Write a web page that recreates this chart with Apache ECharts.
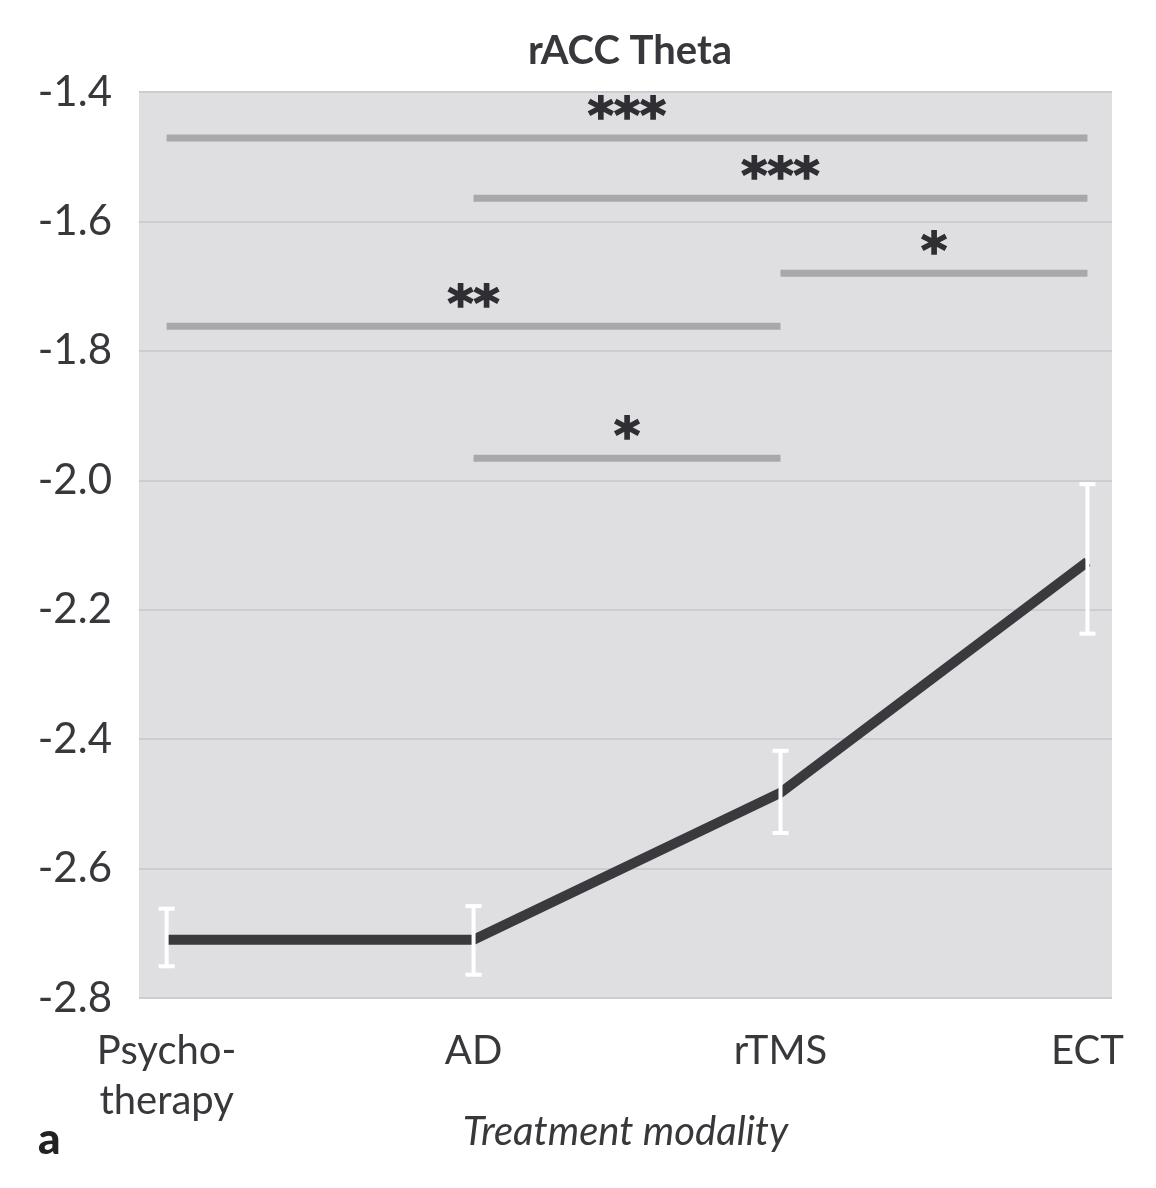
<!DOCTYPE html>
<html>
<head>
<meta charset="utf-8">
<title>rACC Theta</title>
<script src="https://cdn.jsdelivr.net/npm/echarts@6/dist/echarts.min.js"></script>
<style>
    html, body { margin: 0; padding: 0; background: #fff; }
    #chart { width: 1156px; height: 1188px; }
</style>
</head>
<body>
<div id="chart"></div>
<script>
    // categories on the x axis (positions 0..3)
    var categories = ['Psycho-\ntherapy', 'AD', 'rTMS', 'ECT'];
    var catIndex = [0, 1, 2, 3];

    // group means
    var means = [-2.71, -2.71, -2.483, -2.126];
    // error bar ends
    var errLow = [-2.751, -2.764, -2.545, -2.237];
    var errHigh = [-2.662, -2.658, -2.418, -2.006];

    // significance brackets: from, to, y, stars
    var sigFrom = [0, 1, 2, 0, 1];
    var sigTo = [3, 3, 3, 2, 2];
    var sigY = [-1.471, -1.564, -1.680, -1.762, -1.966];
    var sigStars = ['***', '***', '*', '**', '*'];

    var textColor = '#38383c';
    var baseFont = 'Lato, "Open Sans", sans-serif';

    var chart = echarts.init(document.getElementById('chart'));

    var lineData = catIndex.map(function (x, i) { return [x, means[i]]; });
    var errData = catIndex.map(function (x, i) { return [x, errLow[i], errHigh[i]]; });
    var sigData = sigFrom.map(function (f, i) { return [f, sigTo[i], sigY[i]]; });

    var option = {
        animation: false,
        backgroundColor: '#fff',
        title: [{
            text: 'rACC Theta',
            left: 625,
            top: 26,
            textAlign: 'center',
            textStyle: {
                fontFamily: baseFont,
                fontWeight: 'bold',
                fontSize: 40,
                color: textColor
            }
        }, {
            text: 'a',
            left: 33,
            top: 1113,
            textStyle: {
                fontFamily: baseFont,
                fontWeight: 900,
                fontSize: 44,
                color: '#222'
            }
        }],
        grid: {
            left: 139,
            right: 44,
            top: 92,
            bottom: 190,
            show: true,
            backgroundColor: '#dfdfe2',
            borderWidth: 0
        },
        xAxis: {
            type: 'value',
            min: -0.09,
            max: 3.08,
            name: 'Treatment modality',
            nameLocation: 'middle',
            nameGap: 114,
            nameMoveOverlap: false,
            nameTextStyle: {
                fontFamily: baseFont,
                fontStyle: 'italic',
                fontSize: 40,
                color: textColor
            },
            axisLine: { show: false },
            axisTick: { show: false },
            splitLine: { show: false },
            axisLabel: {
                customValues: catIndex,
                margin: 28,
                fontFamily: baseFont,
                fontSize: 40,
                lineHeight: 50,
                color: textColor,
                formatter: function (v) {
                    var i = Math.round(v);
                    return categories[i] || '';
                }
            }
        },
        yAxis: {
            type: 'value',
            min: -2.8,
            max: -1.4,
            interval: 0.2,
            axisLine: { show: false },
            axisTick: { show: false },
            splitLine: {
                show: true,
                lineStyle: { color: '#cdcdd1', width: 2 }
            },
            axisLabel: {
                margin: 27,
                fontFamily: baseFont,
                fontSize: 42,
                color: textColor,
                formatter: function (v) { return v.toFixed(1); }
            }
        },
        series: [
            {
                name: 'mean',
                type: 'line',
                data: lineData,
                symbol: 'none',
                lineStyle: { color: '#39393e', width: 10 },
                z: 2
            },
            {
                name: 'error',
                type: 'custom',
                data: errData,
                z: 3,
                renderItem: function (params, api) {
                    var x = api.value(0);
                    var lo = api.coord([x, api.value(1)]);
                    var hi = api.coord([x, api.value(2)]);
                    var cap = 8;
                    var style = { stroke: '#fff', lineWidth: 4 };
                    return {
                        type: 'group',
                        children: [
                            { type: 'line', shape: { x1: lo[0], y1: lo[1], x2: hi[0], y2: hi[1] }, style: style },
                            { type: 'line', shape: { x1: lo[0] - cap, y1: lo[1], x2: lo[0] + cap, y2: lo[1] }, style: style },
                            { type: 'line', shape: { x1: hi[0] - cap, y1: hi[1], x2: hi[0] + cap, y2: hi[1] }, style: style }
                        ]
                    };
                }
            },
            {
                name: 'significance',
                type: 'custom',
                data: sigData,
                z: 1,
                renderItem: function (params, api) {
                    var a = api.coord([api.value(0), api.value(2)]);
                    var b = api.coord([api.value(1), api.value(2)]);
                    var stars = sigStars[params.dataIndex];
                    return {
                        type: 'group',
                        children: [
                            {
                                type: 'line',
                                shape: { x1: a[0], y1: a[1], x2: b[0], y2: b[1] },
                                style: { stroke: '#a8a8ac', lineWidth: 7 }
                            },
                            {
                                type: 'text',
                                style: {
                                    text: stars,
                                    x: (a[0] + b[0]) / 2,
                                    y: a[1] - 18,
                                    align: 'center',
                                    verticalAlign: 'middle',
                                    font: 'bold 50px "DejaVu Sans"',
                                    fill: '#2e2e33',
                                    stroke: '#2e2e33',
                                    lineWidth: 1.5
                                }
                            }
                        ]
                    };
                }
            }
        ]
    };

    chart.setOption(option);
</script>
</body>
</html>
